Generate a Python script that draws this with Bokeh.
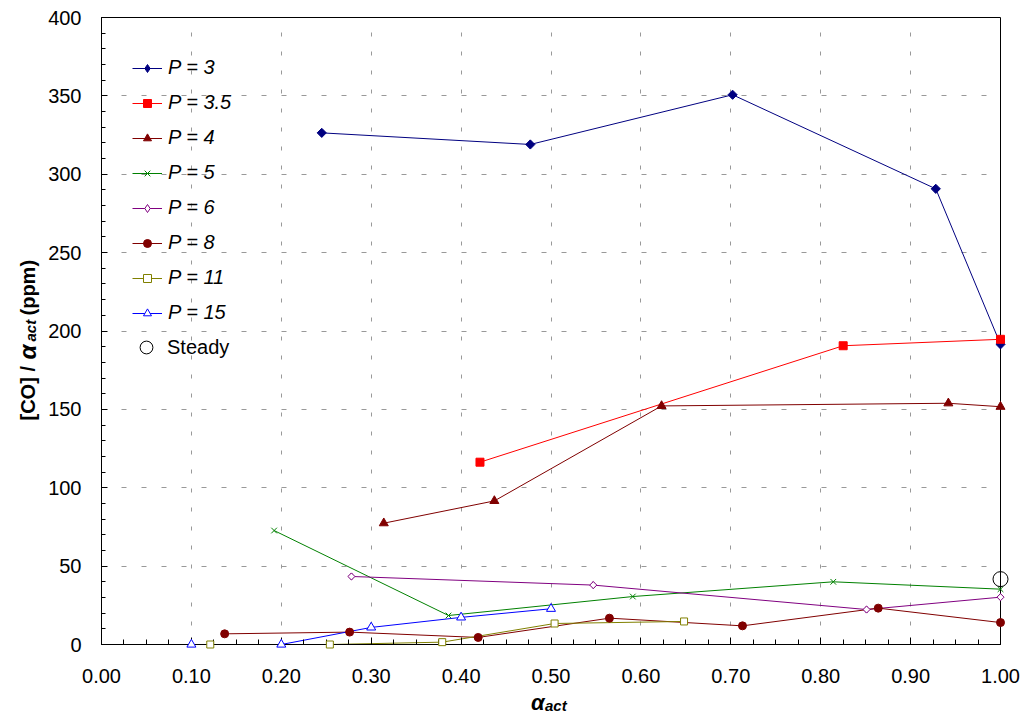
from math import pi
from bokeh.plotting import figure
from bokeh.models import (FixedTicker, NumeralTickFormatter, Legend, LegendItem, Range1d)
from bokeh.core.properties import value
from bokeh.embed import file_html
from bokeh.resources import INLINE

# ---------------- data ----------------
p3_x = [0.245, 0.477, 0.702, 0.928, 1.000]
p3_y = [326.4, 319.0, 350.7, 290.7, 191.5]

p35_x = [0.421, 0.825, 1.000]
p35_y = [116.3, 190.6, 194.7]

p4_x = [0.314, 0.437, 0.623, 0.942, 1.000]
p4_y = [77.4, 91.6, 152.2, 153.9, 151.7]

p5_x = [0.192, 0.386, 0.591, 0.814, 1.000]
p5_y = [72.7, 18.5, 30.6, 40.0, 35.3]

p6_x = [0.278, 0.547, 0.851, 1.000]
p6_y = [43.4, 37.9, 22.3, 30.2]

p8_x = [0.137, 0.276, 0.419, 0.565, 0.713, 0.864, 1.000]
p8_y = [6.8, 7.9, 4.5, 16.8, 11.9, 23.2, 14.0]

p11_x = [0.121, 0.254, 0.379, 0.504, 0.648]
p11_y = [0.0, 0.0, 1.5, 13.4, 14.7]

p15_x = [0.100, 0.200, 0.300, 0.400, 0.500]
p15_y = [0.0, 0.0, 10.9, 17.3, 22.8]

steady_x = [1.000]
steady_y = [41.7]

series_labels = ["P = 3", "P = 3.5", "P = 4", "P = 5", "P = 6", "P = 8", "P = 11", "P = 15"]
steady_label = "Steady"

x_ticks = [0.0, 0.1, 0.2, 0.3, 0.4, 0.5, 0.6, 0.7, 0.8, 0.9, 1.0]
x_minor_ticks = [i * 0.025 for i in range(41)]
y_ticks = [0, 50, 100, 150, 200, 250, 300, 350, 400]
y_minor_ticks = list(range(0, 401, 10))

x_title_parts = ["α", "act"]
y_title_parts = ["[CO] /", "α", "act", "(ppm)"]

# ---------------- styles ----------------
FONT = "Liberation Sans"
# (color, plot marker, plot size, plot angle, fill, legend-key diamond?)
styles = [
    ("#000080", "square", 6.5, pi / 4, "#000080", True),
    ("#FF0000", "square", 8, 0, "#FF0000", False),
    ("#800000", "triangle", 9, 0, "#800000", False),
    ("#008000", "x", 8, 0, "#008000", False),
    ("#800080", "square", 5, pi / 4, "white", True),
    ("#800000", "circle", 8, 0, "#800000", False),
    ("#808000", "square", 7, 0, "white", False),
    ("#0000FF", "triangle", 9, 0, "white", False),
]
series = [(p3_x, p3_y), (p35_x, p35_y), (p4_x, p4_y), (p5_x, p5_y),
          (p6_x, p6_y), (p8_x, p8_y), (p11_x, p11_y), (p15_x, p15_y)]

p = figure(width=1026, height=715, x_range=Range1d(0, 1), y_range=Range1d(0, 400),
           output_backend="svg", toolbar_location=None,
           min_border_left=101, min_border_right=26, min_border_top=17, min_border_bottom=71)
p.background_fill_color = "white"
p.border_fill_color = "white"
p.outline_line_color = "black"
p.outline_line_width = 1

# axes
p.xaxis.ticker = FixedTicker(ticks=x_ticks, minor_ticks=x_minor_ticks)
p.yaxis.ticker = FixedTicker(ticks=y_ticks, minor_ticks=y_minor_ticks)
p.xaxis.formatter = NumeralTickFormatter(format="0.00")
for ax in (p.xaxis[0], p.yaxis[0]):
    ax.axis_line_color = "black"
    ax.axis_line_width = 1
    ax.major_tick_line_color = "black"
    ax.minor_tick_line_color = "black"
    ax.major_tick_out = 0
    ax.minor_tick_out = 0
    ax.major_label_text_font = FONT
    ax.major_label_text_font_size = "20px"
    ax.major_label_text_color = "black"
p.xaxis.major_tick_in = 7
p.xaxis.minor_tick_in = 5
p.yaxis.major_tick_in = 6
p.yaxis.minor_tick_in = 4
p.xaxis.major_label_standoff = 24
p.yaxis.major_label_standoff = 20

# grids
p.xgrid.grid_line_color = "#999999"
p.xgrid.grid_line_dash = "4 15"
p.ygrid.grid_line_color = "#999999"
p.ygrid.grid_line_dash = "5 15"

items = []
for lab, (xs, ys), (col, mk, sz, ang, fill, dia) in zip(series_labels, series, styles):
    ln = p.line(xs, ys, line_color=col, line_width=1)
    if dia:
        # narrow diamond drawn underneath, used as legend key
        key = p.scatter(xs, ys, marker="diamond", size=7, line_color=col,
                        fill_color=fill, line_width=1)
    sc = p.scatter(xs, ys, marker=mk, size=sz, angle=ang, line_color=col,
                   fill_color=fill, line_width=1, level="overlay")
    items.append(LegendItem(label=lab, renderers=[ln, key if dia else sc]))

st_r = p.scatter(steady_x, steady_y, marker="circle", size=15, line_color="black",
                 fill_color=None, line_width=1, level="overlay")

leg = Legend(items=items, location=(21, 310), orientation="vertical",
             glyph_width=30, glyph_height=20, label_height=20, spacing=12,
             padding=10, margin=0, label_standoff=6,
             label_text_font=FONT, label_text_font_size="20px",
             label_text_font_style="italic", label_text_color="black",
             border_line_alpha=0, background_fill_alpha=0)
p.add_layout(leg, "center")

leg2 = Legend(items=[LegendItem(label=steady_label, renderers=[st_r])],
              location=(29, 281), glyph_width=32, glyph_height=32, label_height=32,
              padding=0, margin=0, label_standoff=5,
              label_text_font=FONT, label_text_font_size="20px",
              label_text_color="black", border_line_alpha=0, background_fill_alpha=0)
p.add_layout(leg2, "center")

# x-axis title: alpha with subscript "act" (anchored at x=0.5 on the axis, pixel offsets)
p.text(x=[0.5], y=[0], text=[x_title_parts[0]], x_offset=-20, y_offset=58,
       text_font=value(FONT), text_font_size="22px", text_font_style="bold italic",
       text_align="left", text_baseline="alphabetic", text_color="black", level="overlay")
p.text(x=[0.5], y=[0], text=[x_title_parts[1]], x_offset=-6, y_offset=61,
       text_font=value(FONT), text_font_size="15px", text_font_style="bold italic",
       text_align="left", text_baseline="alphabetic", text_color="black", level="overlay")

# y-axis title, rotated and composed of parts (anchored at origin, pixel offsets)
y_off = [-224, -285, -303, -329]
x_off = [-74, -74, -71, -74]
sizes = ["20px", "24px", "15px", "20px"]
fstyles = ["bold", "bold italic", "bold italic", "bold"]
for t, yo, xo, fs, fst in zip(y_title_parts, y_off, x_off, sizes, fstyles):
    p.text(x=[0], y=[0], text=[t], x_offset=xo, y_offset=yo, angle=pi / 2,
           text_font=value(FONT), text_font_size=fs, text_font_style=fst,
           text_align="left", text_baseline="alphabetic", text_color="black",
           level="overlay")

open("out.html", "w").write(file_html(p, INLINE))
